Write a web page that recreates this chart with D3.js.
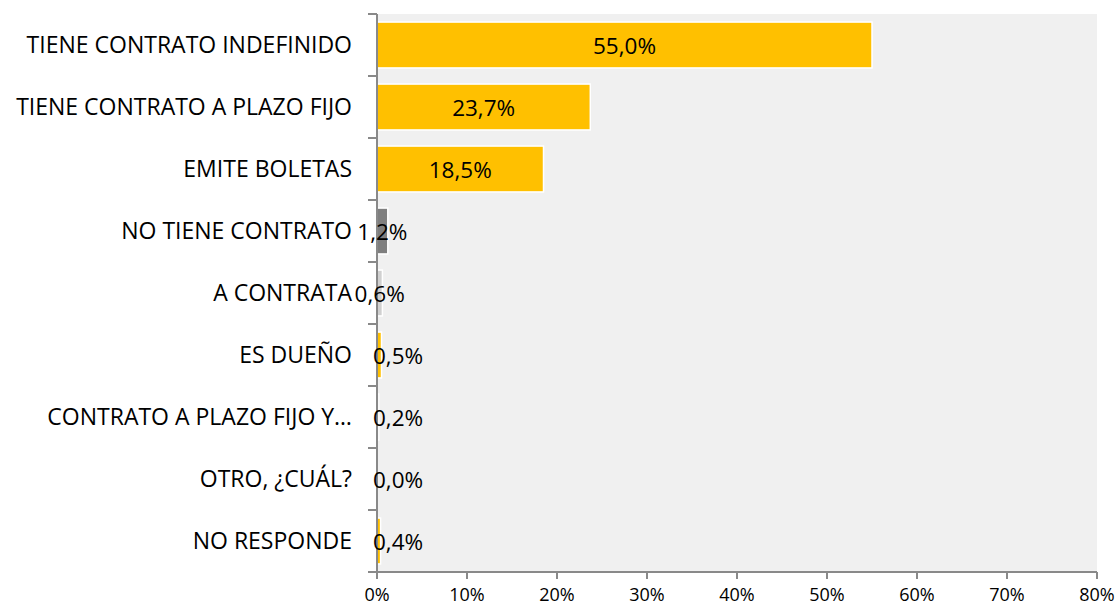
<!DOCTYPE html>
<html><head><meta charset="utf-8">
<script src="https://cdn.jsdelivr.net/npm/d3@7"></script>
<style>body{margin:0;background:#fff}svg{display:block}</style>
</head><body>
<svg id="c" width="1117" height="606"></svg>
<script>
const categories = ["TIENE CONTRATO INDEFINIDO","TIENE CONTRATO A PLAZO FIJO","EMITE BOLETAS","NO TIENE CONTRATO","A CONTRATA","ES DUEÑO","CONTRATO A PLAZO FIJO Y…","OTRO, ¿CUÁL?","NO RESPONDE"];
const values = [55.0, 23.7, 18.5, 1.2, 0.6, 0.5, 0.2, 0.0, 0.4];
const barColors = ["#FFC000","#FFC000","#FFC000","#7F7F7F","#D0D0D0","#FFC000","#7F7F7F","#FFC000","#FFC000"];
const xTicks = [0,10,20,30,40,50,60,70,80];

const svg = d3.select("#c");
const font = "'Open Sans', sans-serif";
const L = 377, R = 1097, T = 14, B = 572;
const x = d3.scaleLinear().domain([0,80]).range([L,R]);
const y = d3.scaleBand().domain(categories).range([T,B]).paddingInner(0.26).paddingOuter(0.13);
const band = d3.scaleBand().domain(categories).range([T,B]);

svg.append("rect").attr("x",L).attr("y",T).attr("width",R-L).attr("height",B-T).attr("fill","#F0F0F0");

svg.selectAll("rect.bar").data(categories).join("rect").attr("class","bar")
  .attr("x",x(0)).attr("y",d=>y(d)).attr("height",y.bandwidth())
  .attr("width",(d,i)=>Math.max(0,x(values[i])-x(0)))
  .attr("fill",(d,i)=>barColors[i]).attr("stroke","#fff").attr("stroke-width",1.5)
  .attr("display",(d,i)=>values[i]>0?null:"none");

// y axis
const ya = svg.append("g");
ya.append("line").attr("x1",L).attr("x2",L).attr("y1",T).attr("y2",B).attr("stroke","#898989").attr("stroke-width",2);
ya.selectAll("line.t").data(d3.range(categories.length+1)).join("line").attr("class","t")
  .attr("x1",L-9).attr("x2",L).attr("y1",i=>T+i*band.step()).attr("y2",i=>T+i*band.step())
  .attr("stroke","#898989").attr("stroke-width",2);
ya.selectAll("text").data(categories).join("text")
  .attr("x",352).attr("y",d=>band(d)+band.bandwidth()/2).attr("dy","0.35em")
  .attr("text-anchor","end").attr("font-family",font).attr("font-size",23).attr("fill","#000")
  .text(d=>d);

const fmt = v => v.toFixed(1).replace(".",",")+"%";
svg.selectAll("text.val").data(categories).join("text").attr("class","val")
  .attr("x",(d,i)=> i>=5 ? x(0)-4 : (x(0)+x(values[i]))/2)
  .attr("text-anchor",(d,i)=> i>=5 ? "start" : "middle")
  .attr("y",d=>y(d)+y.bandwidth()/2).attr("dy","0.41em")
  .attr("font-family",font).attr("font-size",22.5).attr("fill","#000")
  .text((d,i)=>fmt(values[i]));

// x axis
const xa = svg.append("g");
xa.append("line").attr("x1",L).attr("x2",R).attr("y1",B).attr("y2",B).attr("stroke","#898989").attr("stroke-width",2);
xa.selectAll("line.t").data(xTicks).join("line").attr("class","t")
  .attr("x1",d=>x(d)).attr("x2",d=>x(d)).attr("y1",B).attr("y2",B+7)
  .attr("stroke","#898989").attr("stroke-width",2);
xa.selectAll("text").data(xTicks).join("text")
  .attr("x",d=>x(d)).attr("y",601).attr("text-anchor","middle")
  .attr("font-family",font).attr("font-size",18).attr("fill","#000")
  .text(d=>d+"%");
</script>
</body></html>
